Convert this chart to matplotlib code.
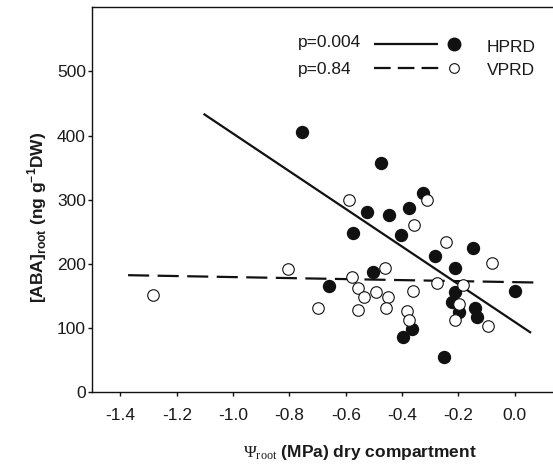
import numpy as np
import matplotlib
matplotlib.use("Agg")
import matplotlib.pyplot as plt

plt.rcParams["font.family"] = ["Liberation Sans", "DejaVu Sans"]
plt.rcParams["axes.unicode_minus"] = False
plt.rcParams["mathtext.fontset"] = "custom"
plt.rcParams["mathtext.rm"] = "Liberation Serif"
plt.rcParams["mathtext.bf"] = "Liberation Sans:bold"
plt.rcParams["mathtext.sf"] = "Liberation Sans"

# HPRD (filled circles)
hprd_psi = [-0.755, -0.475, -0.324, -0.525, -0.445, -0.374, -0.575, -0.404,
            -0.149, -0.283, -0.212, -0.504, -0.66, -0.211, 0.0, -0.224,
            -0.197, -0.141, -0.135, -0.395, -0.366, -0.25]
hprd_aba = [405, 357, 310, 281, 277, 288, 248, 245,
            225, 212, 193, 187, 166, 157, 158, 141,
            125, 131, 118, 86, 98, 55]

# VPRD (open circles)
vprd_psi = [-1.285, -0.804, -0.697, -0.587, -0.312, -0.356, -0.245, -0.082,
            -0.459, -0.578, -0.555, -0.534, -0.492, -0.45, -0.555, -0.458,
            -0.362, -0.384, -0.376, -0.277, -0.185, -0.197, -0.211, -0.096]
vprd_aba = [152, 192, 131, 300, 299, 260, 234, 201,
            193, 179, 163, 149, 156, 148, 129, 131,
            158, 127, 112, 170, 167, 137, 113, 103]

# regression lines: slope, intercept, x range
hprd_fit = (-293.5, 109.7)
hprd_range = [-1.105, 0.058]
vprd_fit = (-7.9, 171.7)
vprd_range = [-1.373, 0.09]

x_ticks = [-1.4, -1.2, -1.0, -0.8, -0.6, -0.4, -0.2, 0.0]
y_ticks = [0, 100, 200, 300, 400, 500]

hprd_p = "p=0.004"
vprd_p = "p=0.84"

fig = plt.figure(figsize=(5.53, 4.68), dpi=100)
ax_w = 1.1345 - 0.1669
ax = fig.add_axes([0.1669, 0.1617, ax_w, 0.8227])

xs = np.array(hprd_range)
ax.plot(xs, hprd_fit[0] * xs + hprd_fit[1], color="#111111", lw=1.6,
        solid_capstyle="butt")
xs = np.array(vprd_range)
ax.plot(xs, vprd_fit[0] * xs + vprd_fit[1], color="#111111", lw=1.6,
        dashes=(9.5, 3.8))

ax.plot(hprd_psi, hprd_aba, "o", color="#111111", ms=8.6, mec="#111111")
ax.plot(vprd_psi, vprd_aba, "o", mfc="white", mec="#111111", ms=8.3, mew=0.8)

ax.set_xlim(-1.5, 0.4)
ax.set_ylim(0, 600)
ax.set_xticks(x_ticks)
ax.set_xticklabels(["%.1f" % v for v in x_ticks])
ax.set_yticks(y_ticks)

for s in ax.spines.values():
    s.set_linewidth(1.0)
    s.set_color("#111111")

ax.tick_params(axis="both", direction="out", length=3, width=1.0,
               labelsize=12.5, colors="#111111", labelcolor="#1a1a1a")
ax.tick_params(axis="x", pad=8.5)
ax.tick_params(axis="y", pad=1.6)

ax.set_xlabel(r"$\mathrm{\Psi_{root}}$ (MPa) dry compartment",
              fontsize=12.5, fontweight="bold", color="#1a1a1a")
ax.xaxis.label.set_va("baseline")
ax.xaxis.set_label_coords(0.5, -0.169)

ax.set_ylabel(r"[ABA]$_{\mathbf{root}}$ (ng g$^{\mathbf{-1}}$DW)",
              fontsize=12.5, fontweight="bold", color="#1a1a1a")
ax.yaxis.label.set_va("baseline")
ax.yaxis.set_label_coords(-49.0 / (ax_w * 553), 0.455)

# legend drawn by hand
tr = ax.transAxes
fx = lambda px: (px - 92.3) / (ax_w * 553)
fy = lambda py: (392.3 - py) / 385.0
ax.text(fx(298.3), fy(46.7), hprd_p, transform=tr, fontsize=12.5,
        color="#1a1a1a", va="baseline")
ax.text(fx(298.3), fy(74.3), vprd_p, transform=tr, fontsize=12.5,
        color="#1a1a1a", va="baseline")
ax.plot([fx(374.3), fx(438.3)], [fy(44), fy(44)], transform=tr,
        color="#111111", lw=1.6, solid_capstyle="butt")
ax.plot([fx(374.3), fx(439)], [fy(68.3), fy(68.3)], transform=tr,
        color="#111111", lw=1.6, dashes=(7.5, 3.2))
ax.plot([fx(454.3)], [fy(44)], "o", transform=tr, color="#111111", ms=9)
ax.plot([fx(454.3)], [fy(68.3)], "o", transform=tr, mfc="white",
        mec="#111111", ms=7, mew=0.8)
ax.text(fx(486.7), fy(51.7), "HPRD", transform=tr, fontsize=12.5,
        color="#1a1a1a", va="baseline")
ax.text(fx(486.7), fy(75), "VPRD", transform=tr, fontsize=12.5,
        color="#1a1a1a", va="baseline")

fig.savefig("out.png", dpi=100)
